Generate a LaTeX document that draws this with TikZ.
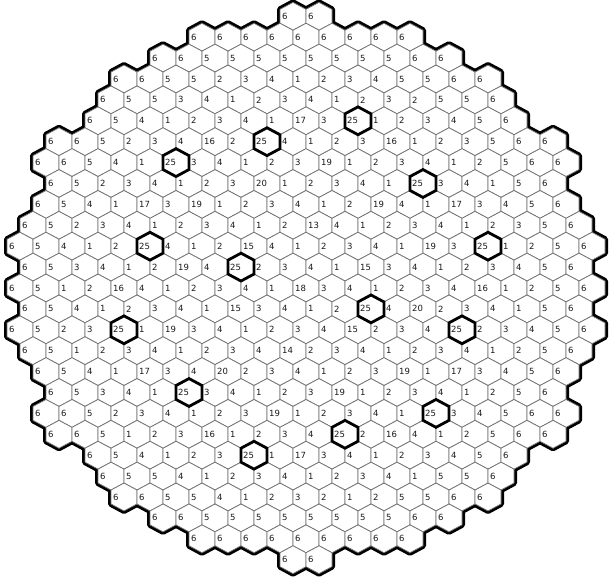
\documentclass[tikz,border=0pt]{standalone}
\usepackage{fontspec}
\newfontfamily\cellfont{DejaVu Sans}
\usetikzlibrary{calc}
\newcount\cellcount

\def\hw{13}      % halbe Breite einer Zelle
\def\hr{13.93}   % Abstand Mitte -- Spitze
\def\coremap{%
  {6,6},
  {6,6,6,6,6,6,6,6,6},
  {6,6,5,5,5,5,5,5,5,5,6,6},
  {6,6,5,5,2,3,4,1,2,3,4,5,5,6,6},
  {6,5,5,3,4,1,2,3,4,1,2,3,2,5,5,6},
  {6,5,4,1,2,3,4,1,17,3,25,1,2,3,4,5,6},
  {6,6,5,2,3,4,16,2,25,4,1,2,3,16,1,2,3,5,6,6},
  {6,6,5,4,1,25,3,4,1,2,3,19,1,2,3,4,1,2,5,6,6},
  {6,5,2,3,4,1,2,3,20,1,2,3,4,1,25,3,4,1,5,6},
  {6,5,4,1,17,3,19,1,2,3,4,1,2,19,4,1,17,3,4,5,6},
  {6,5,2,3,4,1,2,3,4,1,2,13,4,1,2,3,4,1,2,3,5,6},
  {6,5,4,1,2,25,4,1,2,15,4,1,2,3,4,1,19,3,25,1,2,5,6},
  {6,5,3,4,1,2,19,4,25,2,3,4,1,15,3,4,1,2,3,4,5,6},
  {6,5,1,2,16,4,1,2,3,4,1,18,3,4,1,2,3,4,16,1,2,5,6},
  {6,5,4,1,2,3,4,1,15,3,4,1,2,25,4,20,2,3,4,1,5,6},
  {6,5,2,3,25,1,19,3,4,1,2,3,4,15,2,3,4,25,2,3,4,5,6},
  {6,5,1,2,3,4,1,2,3,4,14,2,3,4,1,2,3,4,1,2,5,6},
  {6,5,4,1,17,3,4,20,2,3,4,1,2,3,19,1,17,3,4,5,6},
  {6,5,3,4,1,25,3,4,1,2,3,19,1,2,3,4,1,2,5,6},
  {6,6,5,2,3,4,1,2,3,19,1,2,3,4,1,25,3,4,5,6,6},
  {6,6,5,1,2,3,16,1,2,3,4,25,2,16,4,1,2,5,6,6},
  {6,5,4,1,2,3,25,1,17,3,4,1,2,3,4,5,6},
  {6,5,5,4,1,2,3,4,1,2,3,4,1,5,5,6},
  {6,6,5,5,4,1,2,3,2,1,2,5,5,6,6},
  {6,6,5,5,5,5,5,5,5,5,6,6},
  {6,6,6,6,6,6,6,6,6},
  {6,6}}

% #1 wird fuer jede Zelle ausgefuehrt: \r Zeile, \k Spalte, \c Wert
\newcommand{\forallcells}[1]{%
  \foreach \row [count=\r from 0] in \coremap {
    \global\cellcount=0
    \foreach \c in \row {\global\advance\cellcount by 1}
    \edef\ncells{\the\cellcount}
    \foreach \c [count=\k from 0] in \row {
      \coordinate (h-\r-\k) at ({306+(\k-(\ncells-1)/2)*2*\hw}, {288+(13-\r)*20.9});
      #1
    }
  }}

\tikzset{
  hexagon/.style={insert path={++(0,\hr) -- ++(\hw,-\hr/2) -- ++(0,-\hr)
      -- ++(-\hw,-\hr/2) -- ++(-\hw,\hr/2) -- ++(0,\hr) -- cycle}},
  rimline/.style={draw=black, line width=6pt, line join=round},
  cellline/.style={fill=white, draw=black!55, line width=0.75pt},
  marked/.style={draw=black, line width=2.8pt, line join=miter},
  cellnum/.style={anchor=west, inner sep=0pt, text=black!90,
      font=\cellfont\fontsize{8.5}{10}\selectfont}
}

\begin{document}
\begin{tikzpicture}[x=1pt, y=1pt]

\useasboundingbox (0,0) rectangle (610,576);
\fill[white] (0,0) rectangle (610,576);

% === Rand: nur die Aussenseite bleibt stehen ===
\forallcells{\draw[rimline] (h-\r-\k) [hexagon];}

% === Zellen ===
\forallcells{\filldraw[cellline] (h-\r-\k) [hexagon];}

% === Messpositionen und Werte ===
\forallcells{%
  \ifnum\c=25 \draw[marked] (h-\r-\k) [hexagon]; \fi
  \node[cellnum] (n-\r-\k) at ([xshift=-11pt]h-\r-\k) {\c};}

\end{tikzpicture}
\end{document}
